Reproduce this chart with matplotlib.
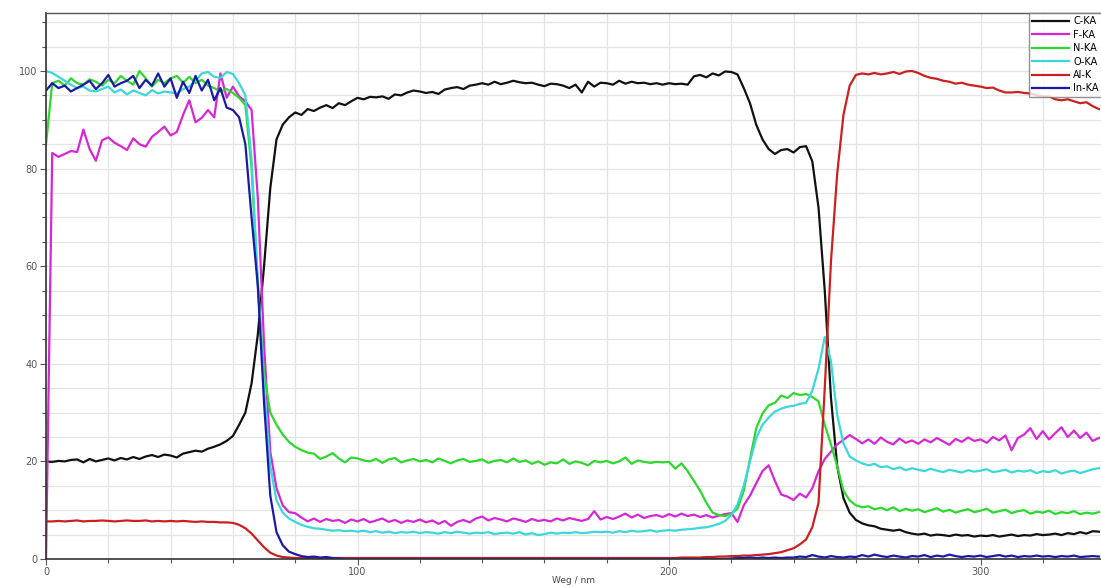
import numpy as np
import matplotlib
matplotlib.use("Agg")
import matplotlib.pyplot as plt
from matplotlib.ticker import MultipleLocator

# Line scan positions (nm), one sample every 2 nm
weg_nm = np.arange(0, 340, 2)

c_ka = [
    20.0, 19.9, 20.1, 20.0, 20.3, 20.4, 19.8, 20.5, 20.0, 20.3,
    20.6, 20.2, 20.7, 20.4, 20.9, 20.5, 21.0, 21.3, 20.9, 21.4,
    21.2, 20.8, 21.6, 21.9, 22.2, 22.0, 22.6, 23.0, 23.5, 24.2,
    25.2, 27.5, 30.0, 36.0, 46.0, 60.0, 76.0, 86.0, 89.0, 90.5,
    91.5, 91.0, 92.2, 91.8, 92.5, 93.0, 92.4, 93.4, 93.0, 93.8,
    94.5, 94.2, 94.7, 94.6, 94.8, 94.3, 95.2, 95.0, 95.6, 96.0,
    95.8, 95.5, 95.7, 95.3, 96.2, 96.5, 96.7, 96.3, 97.0, 97.2,
    97.5, 97.2, 97.8, 97.3, 97.6, 98.0, 97.7, 97.5, 97.6, 97.2,
    96.9, 97.4, 97.3, 97.0, 96.5, 97.2, 95.6, 97.8, 96.8, 97.6,
    97.5, 97.2, 98.0, 97.4, 97.8, 97.5, 97.6, 97.3, 97.5, 97.2,
    97.5, 97.3, 97.4, 97.2, 98.9, 99.2, 98.7, 99.5, 99.1, 99.9,
    99.8, 99.3, 96.5, 93.4, 89.0, 86.0, 84.0, 83.0, 83.8, 84.0,
    83.3, 84.4, 84.6, 81.5, 72.0, 55.0, 33.0, 19.0, 12.5, 9.5,
    8.0, 7.3, 6.9, 6.7, 6.2, 6.0, 5.8, 6.0, 5.5, 5.2,
    5.0, 5.2, 4.8, 5.0, 4.9, 4.7, 5.0, 4.8, 4.9, 4.6,
    4.8, 4.7, 4.9, 4.6, 4.8, 5.0, 4.7, 4.9, 4.8, 5.1,
    4.9, 5.0, 5.2, 4.9, 5.3, 5.1, 5.5, 5.2, 5.7, 5.6,
]

f_ka = [
    0.0, 83.2, 82.4, 83.0, 83.6, 83.4, 88.0, 84.0, 81.6, 85.8,
    86.4, 85.3, 84.6, 83.8, 86.2, 85.0, 84.5, 86.5, 87.5, 88.6,
    86.8, 87.5, 91.0, 94.0, 89.5, 90.4, 92.0, 90.5, 99.5, 94.5,
    96.8, 94.8, 93.8, 92.0, 74.0, 44.0, 22.0, 14.5, 11.0, 9.6,
    9.4, 8.5, 7.7, 8.3, 7.6, 8.2, 7.8, 8.0, 7.4, 8.1,
    7.7, 8.2, 7.5, 7.9, 8.3, 7.6, 8.0, 7.4, 7.9, 7.6,
    8.1, 7.5, 7.9, 7.2, 7.8, 6.8, 7.6, 8.0, 7.5, 8.3,
    8.7, 7.9, 8.4, 8.1, 7.7, 8.3, 8.0, 7.6, 8.2, 7.8,
    8.0, 7.7, 8.3, 7.9, 8.4, 8.1, 7.8, 8.2, 9.8, 8.1,
    8.6, 8.2, 8.7, 9.3, 8.5, 9.1, 8.4, 8.8, 9.0, 8.6,
    9.2, 8.7, 9.3, 8.8, 9.1, 8.6, 9.0, 8.5, 8.9, 9.2,
    9.4, 7.6, 11.0, 13.0, 15.5, 18.0, 19.2, 16.0, 13.2, 12.8,
    12.1, 13.4, 12.6, 14.5, 18.0, 20.5, 22.0, 23.5, 24.4, 25.4,
    24.6, 23.7, 24.5, 23.6, 24.9, 24.0, 23.5, 24.7, 23.8, 24.3,
    23.6, 24.5, 23.9, 24.8, 24.1, 23.4, 24.6, 24.0, 24.9, 24.2,
    24.5, 23.8, 25.0, 24.3, 25.3, 22.3, 24.8, 25.5, 26.8, 24.6,
    26.2, 24.5, 25.8, 27.0, 25.0, 26.3, 24.8, 25.9, 24.2, 24.8,
]

n_ka = [
    85.0, 97.5, 98.0, 97.0, 98.5, 97.5, 97.2, 98.3, 97.8, 97.0,
    98.2, 97.5, 99.0, 98.0, 97.2, 100.0, 98.5, 96.8, 98.2, 97.5,
    98.5, 99.0, 97.6, 98.8, 97.5, 98.2, 97.0, 96.5, 95.8, 96.3,
    95.5, 94.5, 93.0, 80.0, 56.0, 38.0, 30.0, 27.5, 25.5, 24.0,
    23.0, 22.3, 21.8, 21.6, 20.5, 21.0, 21.7, 20.6, 19.8, 20.8,
    20.6, 20.2, 20.0, 20.5, 19.7, 20.4, 20.7, 19.8, 20.2, 20.5,
    20.0, 20.3, 19.8, 20.6, 20.1, 19.6, 20.2, 20.5, 19.9, 20.1,
    20.4, 19.7, 20.1, 20.3, 19.8, 20.6, 19.9, 20.2, 19.5, 20.0,
    19.3, 19.8, 19.6, 20.4, 19.5, 20.0, 19.7, 19.2, 20.1, 19.8,
    20.1, 19.6, 20.0, 20.8, 19.5, 20.2, 19.9, 19.7, 19.9, 19.8,
    19.9, 18.5, 19.6, 18.0, 16.0, 14.0, 11.5, 9.5, 9.0, 8.8,
    9.3, 10.3, 14.0, 20.5, 26.8, 29.8, 31.5, 32.0, 33.5, 33.0,
    34.0, 33.6, 33.8, 33.2, 32.3, 27.5, 23.5, 19.0, 14.0, 12.0,
    11.0, 10.6, 10.8, 10.2, 10.5, 10.0, 10.6, 9.8, 10.3, 9.9,
    10.2, 9.6, 10.0, 10.4, 9.7, 10.1, 9.5, 9.9, 10.2, 9.6,
    9.9, 10.3, 9.5, 9.8, 10.1, 9.4, 9.8, 10.0, 9.3, 9.7,
    9.5, 9.9, 9.2, 9.6, 9.4, 9.8, 9.2, 9.5, 9.3, 9.6,
]

o_ka = [
    100.0, 99.6, 98.8, 98.0, 97.2, 96.5, 96.8, 96.0, 95.8, 96.3,
    96.8, 95.6, 96.2, 95.2, 96.0, 95.5, 95.0, 96.1, 95.4, 95.8,
    95.6, 95.4, 96.3, 96.8, 98.0, 99.5, 99.8, 98.8, 98.6, 99.8,
    99.4, 97.5, 95.0, 82.0, 57.0, 35.0, 19.0, 12.0, 9.5, 8.3,
    7.6, 7.0, 6.6, 6.3, 6.2, 6.0, 5.8, 5.9, 5.7, 5.8,
    5.6, 5.8, 5.5, 5.7, 5.4, 5.6, 5.3, 5.5, 5.4, 5.6,
    5.3, 5.5, 5.4, 5.2, 5.5, 5.3, 5.6, 5.4, 5.2, 5.4,
    5.3, 5.5, 5.1, 5.3, 5.4, 5.2, 5.5, 5.0, 5.3, 4.9,
    5.1, 5.4, 5.2, 5.4, 5.3, 5.5, 5.3, 5.4, 5.6, 5.5,
    5.6, 5.4, 5.7, 5.5, 5.8, 5.6, 5.7, 5.9, 5.6, 5.8,
    5.9, 5.8, 6.0, 6.1, 6.2, 6.4, 6.5, 6.8, 7.2, 7.8,
    9.0, 11.2, 15.0, 20.0, 24.8, 27.5, 29.0, 30.2, 30.8, 31.2,
    31.4, 31.8, 32.0, 34.5, 39.0, 45.5, 40.5, 29.5, 23.7, 21.0,
    20.2, 19.6, 19.2, 19.5, 18.8, 19.0, 18.4, 18.8, 18.2, 18.6,
    18.3, 18.0, 18.5, 18.1, 17.8, 18.3, 18.0, 17.7, 18.2, 17.9,
    18.1, 18.4, 17.8, 18.0, 18.3, 17.7, 18.1, 17.9, 18.2, 17.6,
    18.0, 17.8, 18.2, 17.5, 17.9, 18.1, 17.6, 18.0, 18.4, 18.6,
]

al_k = [
    7.7, 7.7, 7.8, 7.7, 7.8, 7.9, 7.7, 7.8, 7.8, 7.9,
    7.8, 7.7, 7.8, 7.9, 7.8, 7.8, 7.9, 7.7, 7.8, 7.7,
    7.8, 7.7, 7.8, 7.7, 7.6, 7.7, 7.6, 7.6, 7.5, 7.5,
    7.4, 7.0, 6.3, 5.2, 3.8, 2.4, 1.3, 0.7, 0.4, 0.3,
    0.2, 0.2, 0.2, 0.2, 0.2, 0.2, 0.2, 0.2, 0.2, 0.2,
    0.2, 0.2, 0.2, 0.2, 0.2, 0.2, 0.2, 0.2, 0.2, 0.2,
    0.2, 0.2, 0.2, 0.2, 0.2, 0.2, 0.2, 0.2, 0.2, 0.2,
    0.2, 0.2, 0.2, 0.2, 0.2, 0.2, 0.2, 0.2, 0.2, 0.2,
    0.2, 0.2, 0.2, 0.2, 0.2, 0.2, 0.2, 0.2, 0.2, 0.2,
    0.2, 0.2, 0.2, 0.2, 0.2, 0.2, 0.2, 0.2, 0.2, 0.2,
    0.2, 0.2, 0.3, 0.3, 0.3, 0.3, 0.4, 0.4, 0.5, 0.5,
    0.6, 0.6, 0.7, 0.7, 0.8, 0.9, 1.0, 1.2, 1.4, 1.8,
    2.2, 3.0, 4.0, 6.5, 11.5, 35.0, 61.0, 79.0, 91.0, 97.0,
    99.2, 99.5, 99.3, 99.6, 99.3, 99.5, 99.8, 99.4, 99.9, 100.0,
    99.6, 99.0, 98.6, 98.4, 98.0, 97.8, 97.4, 97.6, 97.2, 97.0,
    96.8, 96.5, 96.6, 96.0, 95.6, 95.6, 95.7, 95.5, 95.4, 95.0,
    94.8, 94.8, 94.2, 94.0, 94.2, 93.8, 93.4, 93.6, 92.8, 92.2,
]

in_ka = [
    96.0, 97.5, 96.5, 97.0, 95.8, 96.5, 97.2, 98.0, 96.3, 97.5,
    99.2, 96.8, 97.5, 98.0, 99.0, 96.5, 98.2, 97.0, 99.5, 96.8,
    98.5, 94.5, 97.8, 95.5, 99.0, 96.0, 98.2, 94.0, 96.5, 92.5,
    92.0, 90.5, 85.0, 70.0, 56.0, 32.0, 13.0, 5.5, 2.8, 1.5,
    1.0, 0.6, 0.4, 0.5, 0.3, 0.4, 0.2, 0.1, 0.0, 0.0,
    0.0, 0.0, 0.0, 0.0, 0.0, 0.0, 0.0, 0.0, 0.0, 0.0,
    0.0, 0.0, 0.0, 0.0, 0.0, 0.0, 0.0, 0.0, 0.0, 0.0,
    0.0, 0.0, 0.0, 0.0, 0.0, 0.0, 0.0, 0.0, 0.0, 0.0,
    0.0, 0.0, 0.0, 0.0, 0.0, 0.0, 0.0, 0.0, 0.0, 0.0,
    0.0, 0.0, 0.0, 0.0, 0.0, 0.0, 0.0, 0.0, 0.0, 0.0,
    0.0, 0.0, 0.0, 0.0, 0.0, 0.0, 0.0, 0.0, 0.0, 0.0,
    0.1, 0.2, 0.2, 0.3, 0.2, 0.3, 0.2, 0.3, 0.2, 0.3,
    0.3, 0.5, 0.4, 0.8, 0.5, 0.3, 0.6, 0.4, 0.3, 0.5,
    0.4, 0.8, 0.5, 0.9, 0.6, 0.4, 0.7, 0.5, 0.3, 0.6,
    0.5, 0.8, 0.4, 0.7, 0.5, 0.9, 0.6, 0.4, 0.6, 0.5,
    0.7, 0.4, 0.6, 0.8, 0.5, 0.7, 0.4, 0.6, 0.5, 0.7,
    0.5, 0.6, 0.4, 0.6, 0.5, 0.7, 0.4, 0.5, 0.6, 0.5,
]

series_labels = ["C-KA", "F-KA", "N-KA", "O-KA", "Al-K", "In-KA"]
series_colors = ["#111111", "#d627d6", "#2ed82e", "#3ad8d8", "#cc2020", "#1a1aa8"]

W, H, DPI = 1101, 587, 100
fig = plt.figure(figsize=(W / DPI, H / DPI), dpi=DPI)
fig.patch.set_facecolor("white")

x0, x1 = 46, 1101
y_top, y_bot = 13, 559
ax = fig.add_axes([x0 / W, (H - y_bot) / H, (x1 - x0) / W, (y_bot - y_top) / H])

for vals, lab, col in zip([c_ka, f_ka, n_ka, o_ka, al_k, in_ka], series_labels, series_colors):
    ax.plot(weg_nm, vals, color=col, lw=1.6, label=lab, solid_joinstyle="round")

ax.set_xlim(0, (x1 - x0) / 3.115)
ax.set_ylim(0, (y_bot - y_top) / 4.88)

ax.xaxis.set_major_locator(MultipleLocator(100))
ax.xaxis.set_minor_locator(MultipleLocator(20))
ax.yaxis.set_major_locator(MultipleLocator(20))
ax.yaxis.set_minor_locator(MultipleLocator(5))
ax.set_yticks([0, 20, 40, 60, 80, 100])

ax.grid(True, which="both", color="#e4e4e4", lw=0.9)
ax.set_axisbelow(True)

ax.spines["right"].set_visible(False)
for side in ["left", "bottom"]:
    ax.spines[side].set_color("#333333")
    ax.spines[side].set_linewidth(1.2)
ax.spines["top"].set_color("#555555")
ax.spines["top"].set_linewidth(1.0)

ax.tick_params(axis="both", which="major", labelsize=7, colors="#555555",
               length=4, width=0.8, labelcolor="#555555")
ax.tick_params(axis="both", which="minor", length=3, width=0.8, colors="#555555")
ax.tick_params(axis="x", pad=2)
ax.tick_params(axis="y", pad=2)

ax.set_xlabel("Weg / nm", fontsize=6.5, color="#444444", labelpad=-1)

fig.legend(loc="upper left", bbox_to_anchor=(1029 / W, 1 - 13 / H),
           fontsize=7, frameon=True, fancybox=False, edgecolor="#777777",
           handlelength=3.8, handletextpad=0.4, labelspacing=0.35,
           borderpad=0.35, borderaxespad=0.0)

fig.savefig("out.png", dpi=DPI, facecolor="white")
